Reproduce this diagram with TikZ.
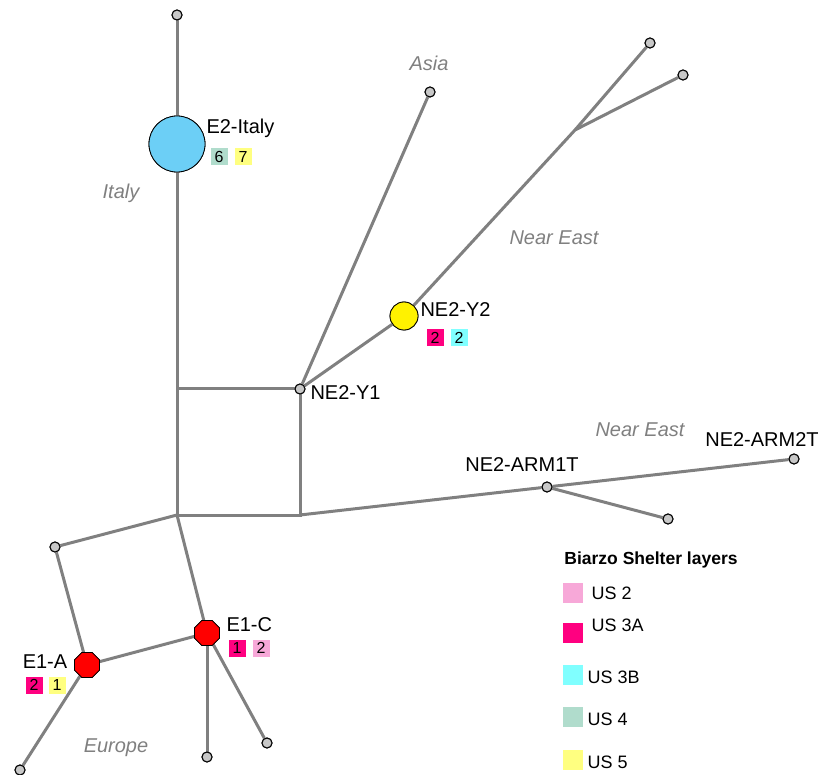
\documentclass[tikz,border=0pt]{standalone}
\usepackage{fontspec}
\setmainfont{Liberation Sans}
\usetikzlibrary{positioning,shapes.geometric}
\definecolor{vonal}{HTML}{808080}
\definecolor{szurke}{HTML}{C8C8C8}
\definecolor{usket}{HTML}{F7A8D8}
\definecolor{usharomA}{HTML}{FF0080}
\definecolor{usharomB}{HTML}{80FFFF}
\definecolor{usnegy}{HTML}{B0DCCC}
\definecolor{usot}{HTML}{FFFF80}
\definecolor{italykek}{HTML}{6CCFF6}
\tikzset{
  mv/.style={circle,draw=black,fill=szurke,inner sep=0pt,minimum size=10pt,line width=1pt},
  hap/.style={regular polygon,regular polygon sides=8,draw=black,fill=red,inner sep=0pt,minimum size=27pt,line width=0.8pt},
  nagy/.style={circle,draw=black,fill=italykek,inner sep=0pt,minimum size=56pt,line width=0.8pt},
  sarga/.style={circle,draw=black,fill=yellow,inner sep=0pt,minimum size=28pt,line width=0.8pt},
  el/.style={draw=vonal,line width=3pt},
  cim/.style={font=\fontsize{20}{23}\selectfont},
  reg/.style={font=\fontsize{20}{23}\selectfont\itshape,text=vonal},
  dobo/.style={draw=none,inner sep=0pt,minimum size=17pt,font=\fontsize{16}{18}\selectfont},
  jel/.style={draw=none,inner sep=0pt,minimum size=20pt},
  jelsz/.style={font=\fontsize{18}{21}\selectfont,anchor=west},
}
\begin{document}
\begin{tikzpicture}[x=1pt,y=-1pt]
  \useasboundingbox (0,0) rectangle (822,775);
  % nodes
  \node[mv] (top) at (177,15) {};
  \node[nagy] (italy) at (177,144) {};
  \coordinate (k1) at (177,389);
  \node[mv] (y1) at (300,389) {};
  \node[mv] (asia) at (430,92) {};
  \node[sarga] (y2) at (404,316) {};
  \coordinate (br) at (575,130);
  \node[mv] (ne1) at (650,43) {};
  \node[mv] (ne2) at (683,75) {};
  \coordinate (j) at (177,515);
  \coordinate (k2) at (300,515);
  \node[mv] (arm1) at (547,487) {};
  \node[mv] (arm2) at (794,459) {};
  \node[mv] (arm3) at (668,519) {};
  \node[mv] (bal) at (55,547) {};
  \node[hap] (e1a) at (87,665) {};
  \node[hap] (e1c) at (207,633) {};
  \node[mv] (eu1) at (20,770) {};
  \node[mv] (eu2) at (207,757) {};
  \node[mv] (eu3) at (267,743) {};
  % edges
  \draw[el] (top) -- (italy) -- (k1) -- (j) -- (k2) -- (y1) -- (k1);
  \draw[el] (y1) -- (asia);
  \draw[el] (y1) -- (y2) -- (br) -- (ne1);
  \draw[el] (br) -- (ne2);
  \draw[el] (k2) -- (arm1) -- (arm2);
  \draw[el] (arm1) -- (arm3);
  \draw[el] (j) -- (bal) -- (e1a) -- (e1c) -- (j);
  \draw[el] (e1a) -- (eu1);
  \draw[el] (e1c) -- (eu2);
  \draw[el] (e1c) -- (eu3);
  % redraw nodes on top
  \foreach \n in {top,y1,asia,ne1,ne2,arm1,arm2,arm3,bal,eu1,eu2,eu3}
    \node[mv] at (\n) {};
  \node[nagy] at (italy) {};
  \node[sarga] at (y2) {};
  \node[hap] at (e1a) {};
  \node[hap] at (e1c) {};
  % labels
  \node[cim,anchor=west] (litaly) at (203,128) {E2-Italy};
  \node[dobo,fill=usnegy] (b1) at (219,157) {6};
  \node[dobo,fill=usot] (b2) at (243,157) {7};
  \node[cim,anchor=west] (ly2) at (417,310) {NE2-Y2};
  \node[dobo,fill=usharomA] (b3) at (435,338) {2};
  \node[dobo,fill=usharomB] (b4) at (459,338) {2};
  \node[cim,anchor=west] (ly1) at (307,393) {NE2-Y1};
  \node[cim] (larm1) at (522,465) {NE2-ARM1T};
  \node[cim] (larm2) at (762,440) {NE2-ARM2T};
  \node[cim,anchor=west] (le1c) at (223,625) {E1-C};
  \node[dobo,fill=usharomA] (b5) at (237,648) {1};
  \node[dobo,fill=usket] (b6) at (261,648) {2};
  \node[cim] (le1a) at (45,662) {E1-A};
  \node[dobo,fill=usharomA] (b7) at (34,685) {2};
  \node[dobo,fill=usot] (b8) at (57,685) {1};
  % regions
  \node[reg] (rit) at (121,193) {Italy};
  \node[reg] (ras) at (429,63) {Asia};
  \node[reg] (rne1) at (554,238) {Near East};
  \node[reg] (rne2) at (640,430) {Near East};
  \node[reg] (reu) at (116,748) {Europe};
  % legend
  \node[font=\fontsize{17.5}{20}\selectfont\bfseries] (lcim) at (651,560) {Biarzo Shelter layers};
  \node[jel,fill=usket] (s1) at (573,593) {};
  \node[jelsz] at (588,593) {US 2};
  \node[jel,fill=usharomA] (s2) at (573,633) {};
  \node[jelsz] at (588,625) {US 3A};
  \node[jel,fill=usharomB] (s3) at (573,675) {};
  \node[jelsz] at (584,677) {US 3B};
  \node[jel,fill=usnegy] (s4) at (573,717) {};
  \node[jelsz] at (584,719) {US 4};
  \node[jel,fill=usot] (s5) at (573,760) {};
  \node[jelsz] at (584,762) {US 5};
\end{tikzpicture}
\end{document}
